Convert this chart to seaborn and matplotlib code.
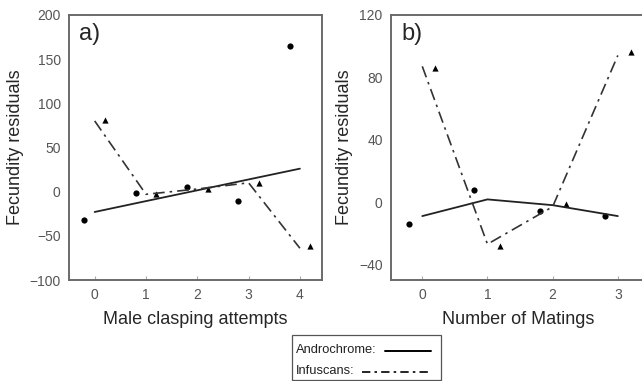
import numpy as np
import pandas as pd
import matplotlib
matplotlib.use("Agg")
import matplotlib.pyplot as plt
import seaborn as sns
from matplotlib.lines import Line2D
from matplotlib.patches import Rectangle

sns.set_theme(style="white")
plt.rcParams['font.family'] = ['Liberation Sans', 'DejaVu Sans']

# Panel a: Male clasping attempts
a_x = [0, 1, 2, 3, 4]
a_andro_pts = [-32, -1, 5, -11, 165]
a_infus_pts = [81, -3, 3, 10, -62]
a_andro_fit = [-23, -10.7, 1.5, 13.8, 26]
a_infus_fit = [80, -3, 3, 10, -64]

# Panel b: Number of matings
b_x = [0, 1, 2, 3]
b_andro_pts = [-14, 8, -5.5, -9]
b_infus_pts = [86, -28, -1.5, 96]
b_andro_fit = [-9, 1.7, -2, -9]
b_infus_fit = [87, -27, -3, 94]

legend_labels = ["Androchrome:", "Infuscans:"]

OFFSET = 0.2
grey = "#6a6a6a"
tick_col = "#555555"
DASH = [7, 3, 1.5, 3]

W, H = 642, 381
fig = plt.figure(figsize=(W / 100, H / 100), dpi=100)
axa = fig.add_axes([0.1075, 0.265, 0.394, 0.696])
axb = fig.add_axes([0.609, 0.265, 0.396, 0.696])

def draw(ax, xs, ap, ip, af, inf_fit):
    xs = np.array(xs, dtype=float)
    df_pts_a = pd.DataFrame({"x": xs - OFFSET, "y": ap})
    df_pts_i = pd.DataFrame({"x": xs + OFFSET, "y": ip})
    df_fit_a = pd.DataFrame({"x": xs, "y": af})
    df_fit_i = pd.DataFrame({"x": xs, "y": inf_fit})
    sns.lineplot(data=df_fit_a, x="x", y="y", ax=ax, color="#222222", lw=1.3,
                 linestyle="-", estimator=None, sort=False)
    sns.lineplot(data=df_fit_i, x="x", y="y", ax=ax, color="#333333", lw=1.2,
                 estimator=None, sort=False).lines[-1].set_dashes(DASH)
    sns.scatterplot(data=df_pts_a, x="x", y="y", ax=ax, color="black", marker="o",
                    s=20, edgecolor="black", linewidth=0)
    sns.scatterplot(data=df_pts_i, x="x", y="y", ax=ax, color="black", marker="^",
                    s=20, edgecolor="black", linewidth=0)

draw(axa, a_x, a_andro_pts, a_infus_pts, a_andro_fit, a_infus_fit)
draw(axb, b_x, b_andro_pts, b_infus_pts, b_andro_fit, b_infus_fit)

axa.set_xlim(-0.5, 4.43)
axa.set_ylim(-100, 200)
axa.set_xticks([0, 1, 2, 3, 4])
axa.set_yticks([-100, -50, 0, 50, 100, 150, 200])
axa.set_xlabel("Male clasping attempts", fontsize=13, labelpad=6)
axa.set_ylabel("Fecundity residuals", fontsize=13, labelpad=4)
axa.text(0.04, 0.97, "a)", transform=axa.transAxes, fontsize=17, va="top", ha="left")

axb.set_xlim(-0.48, 3.42)
axb.set_ylim(-50, 120)
axb.set_xticks([0, 1, 2, 3])
axb.set_yticks([-40, 0, 40, 80, 120])
axb.set_xlabel("Number of Matings", fontsize=13, labelpad=6)
axb.set_ylabel("Fecundity residuals", fontsize=13, labelpad=4)
axb.text(0.04, 0.97, "b)", transform=axb.transAxes, fontsize=17, va="top", ha="left")

for ax in (axa, axb):
    for s in ax.spines.values():
        s.set_color(grey)
        s.set_linewidth(1.4)
        s.set_visible(True)
    ax.tick_params(axis="both", direction="in", length=3, width=0.8, color="#aaaaaa",
                   labelsize=10, labelcolor=tick_col, pad=6, bottom=True, left=False)
    ax.grid(False)
axb.spines["right"].set_visible(False)

# Legend box (left-aligned labels followed by line samples)
def fx(px):
    return px / W
def fy(py):
    return 1 - py / H

box = Rectangle((fx(292), fy(380)), fx(441) - fx(292), fy(335) - fy(380),
                transform=fig.transFigure, facecolor="white", edgecolor="#555555",
                linewidth=0.9)
fig.patches.append(box)
fig.text(fx(296), fy(350), legend_labels[0], fontsize=9.3, va="center", ha="left",
         color="#222222")
fig.text(fx(296), fy(371), legend_labels[1], fontsize=9.3, va="center", ha="left",
         color="#222222")
fig.add_artist(Line2D([fx(385), fx(431)], [fy(351), fy(351)], transform=fig.transFigure,
                      color="black", lw=1.4))
fig.add_artist(Line2D([fx(362), fx(431)], [fy(372), fy(372)], transform=fig.transFigure,
                      color="black", lw=1.2, dashes=[5, 2.5, 1.5, 2.5]))

fig.savefig("out.png", dpi=100)
